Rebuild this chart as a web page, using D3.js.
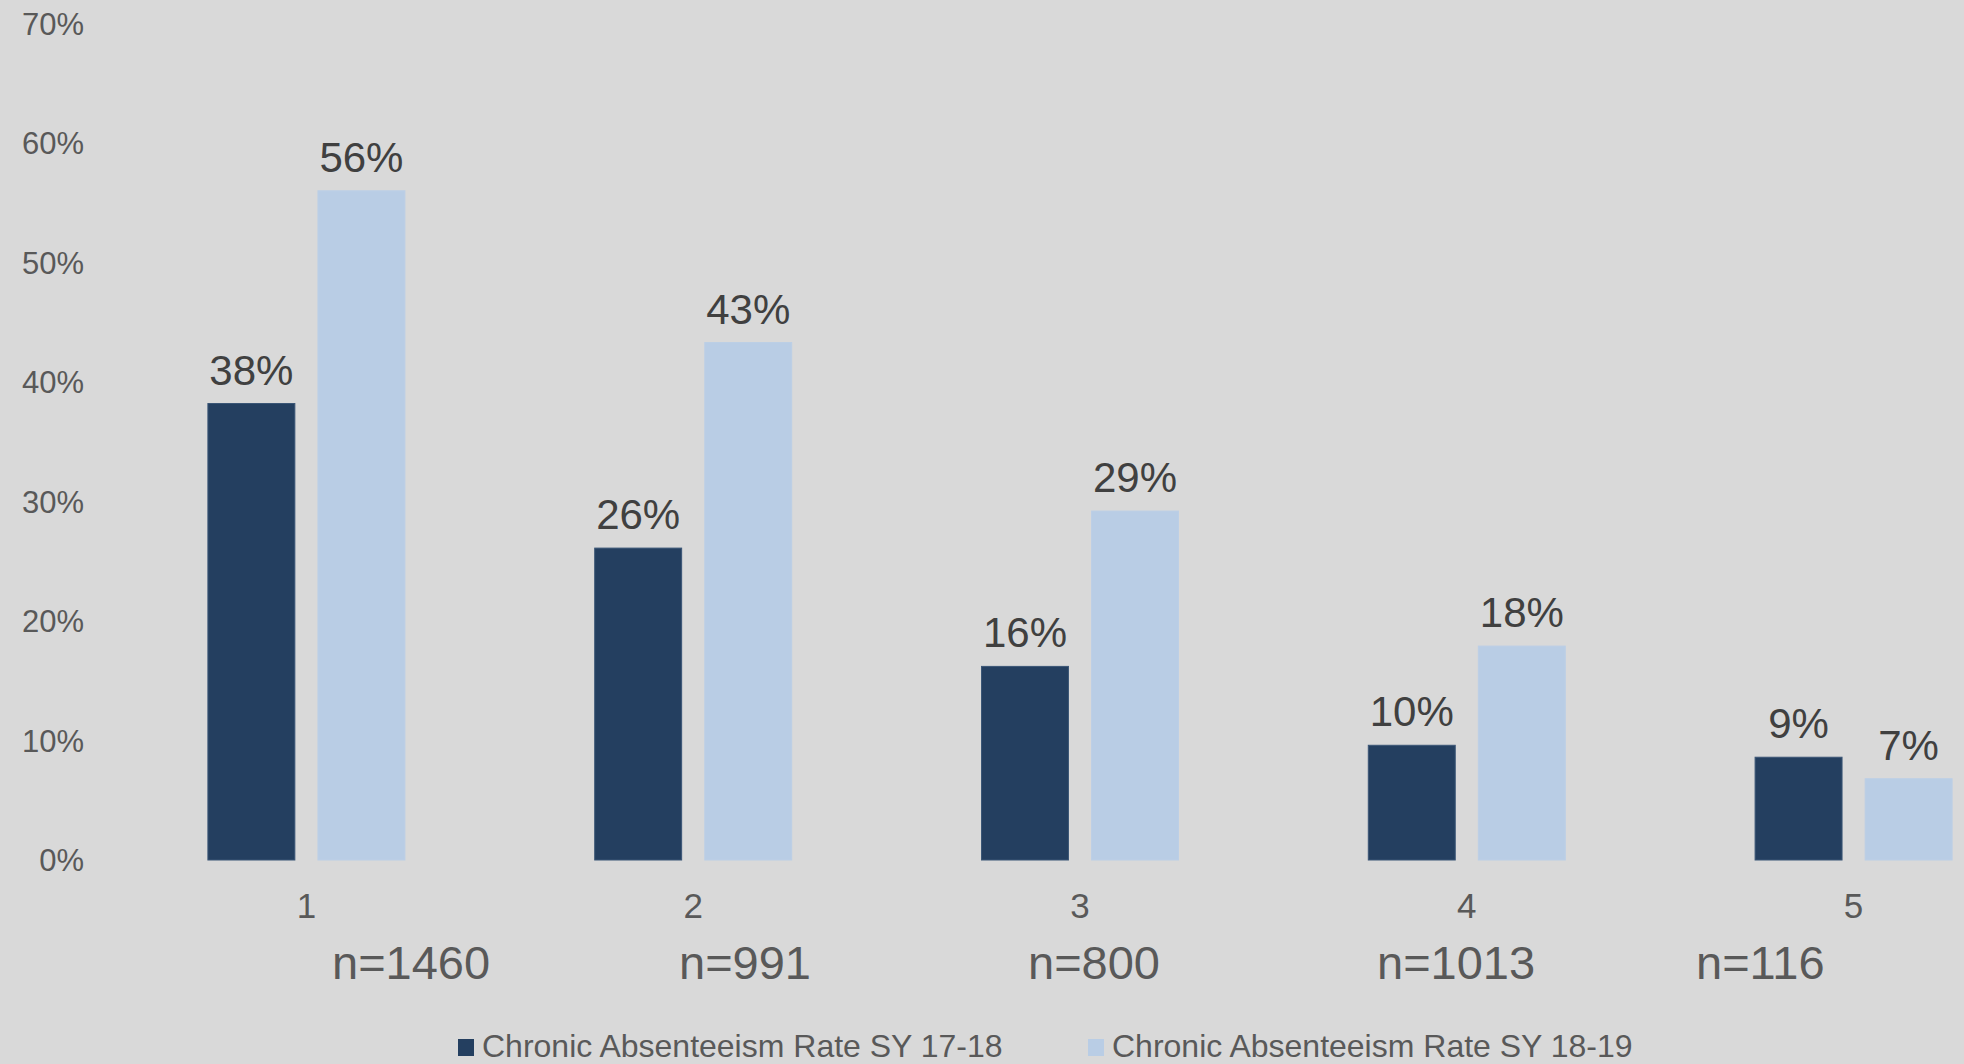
<!DOCTYPE html>
<html>
<head>
<meta charset="utf-8">
<script src="https://cdn.jsdelivr.net/npm/d3@7"></script>
<style>
  html, body { margin: 0; padding: 0; background: #d9d9d9; overflow: hidden; }
  text { font-family: "Liberation Sans", Arial, sans-serif; }
</style>
</head>
<body>
<svg id="chart" width="1964" height="1064"></svg>
<script>
// ---- data
const categories = ["1", "2", "3", "4", "5"]
const rate1718 = [38.2, 26.1, 16.2, 9.6, 8.6]
const rate1819 = [56.0, 43.3, 29.2, 17.9, 6.8]
const sampleSizes = ["n=1460", "n=991", "n=800", "n=1013", "n=116"]
const seriesNames = ["Chronic Absenteeism Rate SY 17-18", "Chronic Absenteeism Rate SY 18-19"]
const yTicks = [0, 10, 20, 30, 40, 50, 60, 70]

// ---- layout
const W = 1964, H = 1064
const colors = ["#243f60", "#b9cde5"]
const nLabelX = [332, 679, 1028, 1377, 1696] // hand-placed text boxes in the original

const svg = d3.select("#chart")
svg.append("rect").attr("width", W).attr("height", H).attr("fill", "#d9d9d9")

const x = d3.scaleBand().domain(categories).range([113, 2047]).paddingInner(0).paddingOuter(0)
const x1 = d3.scaleBand().domain([0, 1]).range([x.bandwidth() / 2 - 98.5, x.bandwidth() / 2 + 98.5]).paddingInner(0.21)
const y = d3.scaleLinear().domain([0, 70]).range([860, 23.5])

// y axis labels
svg.append("g").selectAll("text").data(yTicks).join("text")
  .attr("x", 84).attr("y", d => y(d) + 11)
  .attr("text-anchor", "end")
  .attr("font-size", 31).attr("fill", "#595959")
  .text(d => d + "%")

const rows = categories.map((c, i) => ({ c, vals: [rate1718[i], rate1819[i]] }))

const groups = svg.append("g").selectAll("g").data(rows).join("g")
  .attr("transform", d => `translate(${x(d.c)},0)`)

groups.selectAll("rect").data(d => d.vals.map((v, s) => ({ v, s }))).join("rect")
  .attr("x", d => x1(d.s)).attr("width", x1.bandwidth())
  .attr("y", d => y(d.v)).attr("height", d => y(0) - y(d.v))
  .attr("fill", d => colors[d.s])
  .attr("stroke", d => d.s === 0 ? "#3b5676" : "#bccfe6").attr("stroke-width", 1)

groups.selectAll("text.val").data(d => d.vals.map((v, s) => ({ v, s }))).join("text")
  .attr("class", "val")
  .attr("x", d => x1(d.s) + x1.bandwidth() / 2)
  .attr("y", d => y(d.v) - 19)
  .attr("text-anchor", "middle")
  .attr("font-size", 42).attr("fill", "#404040")
  .text(d => Math.round(d.v) + "%")

// category labels
svg.append("g").selectAll("text").data(categories).join("text")
  .attr("x", d => x(d) + x.bandwidth() / 2).attr("y", 918)
  .attr("text-anchor", "middle")
  .attr("font-size", 35).attr("fill", "#595959")
  .text(d => d)

// sample size labels
svg.append("g").selectAll("text").data(sampleSizes).join("text")
  .attr("x", (d, i) => nLabelX[i]).attr("y", 979)
  .attr("font-size", 47).attr("fill", "#595959")
  .text(d => d)

// legend
const legendX = [458, 1088]
const lg = svg.append("g").selectAll("g").data(seriesNames).join("g")
  .attr("transform", (d, i) => `translate(${legendX[i]},1039)`)
lg.append("rect").attr("width", 16).attr("height", 17).attr("fill", (d, i) => colors[i])
lg.append("text").attr("x", 24).attr("y", 18)
  .attr("font-size", 32).attr("fill", "#595959")
  .text(d => d)
</script>
</body>
</html>
